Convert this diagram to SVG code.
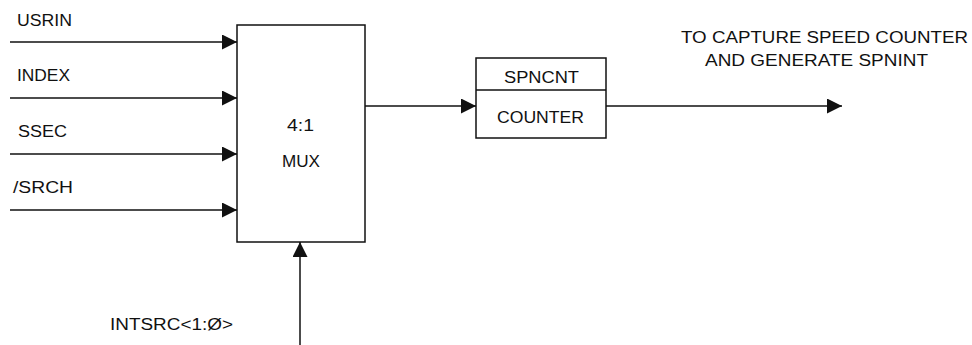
<svg xmlns="http://www.w3.org/2000/svg" width="972" height="345" viewBox="0 0 972 345">
  <style>
    .box { fill: #fff; stroke: #111; stroke-width: 1.5; }
    .wire { fill: none; stroke: #111; stroke-width: 1.5; }
    text { font-family: "Liberation Sans", Arial, sans-serif; font-size: 16px; fill: #111; }
    .mid { text-anchor: middle; }
  </style>
  <defs>
    <marker id="arrow" viewBox="0 0 15 15" refX="15" refY="7.5" markerWidth="15" markerHeight="15" markerUnits="userSpaceOnUse" orient="auto">
      <path d="M0,0 L15,7.5 L0,15 Z" fill="#111"/>
    </marker>
  </defs>

  <g id="connectors">
    <line class="wire" x1="10" y1="42" x2="237" y2="42" marker-end="url(#arrow)"/>
    <line class="wire" x1="10" y1="98" x2="237" y2="98" marker-end="url(#arrow)"/>
    <line class="wire" x1="10" y1="154" x2="237" y2="154" marker-end="url(#arrow)"/>
    <line class="wire" x1="10" y1="210" x2="237" y2="210" marker-end="url(#arrow)"/>
    <line class="wire" x1="365" y1="106" x2="476" y2="106" marker-end="url(#arrow)"/>
    <line class="wire" x1="606" y1="106" x2="842" y2="106" marker-end="url(#arrow)"/>
    <line class="wire" x1="300" y1="345" x2="300" y2="242" marker-end="url(#arrow)"/>
  </g>

  <g id="input-labels">
    <text x="17" y="25.5" textLength="55" lengthAdjust="spacingAndGlyphs">USRIN</text>
    <text x="17" y="81" textLength="53" lengthAdjust="spacingAndGlyphs">INDEX</text>
    <text x="18" y="137" textLength="49" lengthAdjust="spacingAndGlyphs">SSEC</text>
    <text x="13" y="193" textLength="60" lengthAdjust="spacingAndGlyphs">/SRCH</text>
  </g>

  <g id="mux">
    <rect class="box" x="237" y="25" width="128" height="217"/>
    <text class="mid" x="300.5" y="130.5" textLength="27" lengthAdjust="spacingAndGlyphs">4:1</text>
    <text class="mid" x="301" y="167" textLength="38" lengthAdjust="spacingAndGlyphs">MUX</text>
  </g>

  <g id="spncnt">
    <rect class="box" x="476" y="58" width="130" height="80"/>
    <line class="wire" x1="476" y1="90" x2="606" y2="90"/>
    <text class="mid" x="541.5" y="82.5" textLength="75" lengthAdjust="spacingAndGlyphs">SPNCNT</text>
    <text class="mid" x="540.5" y="123" textLength="87" lengthAdjust="spacingAndGlyphs">COUNTER</text>
  </g>

  <g id="output-label">
    <text x="681" y="43" textLength="287" lengthAdjust="spacingAndGlyphs">TO CAPTURE SPEED COUNTER</text>
    <text x="705" y="66" textLength="223" lengthAdjust="spacingAndGlyphs">AND GENERATE SPNINT</text>
  </g>

  <g id="select-label">
    <text x="110" y="330" textLength="123" lengthAdjust="spacingAndGlyphs">INTSRC&lt;1:Ø&gt;</text>
  </g>
</svg>
